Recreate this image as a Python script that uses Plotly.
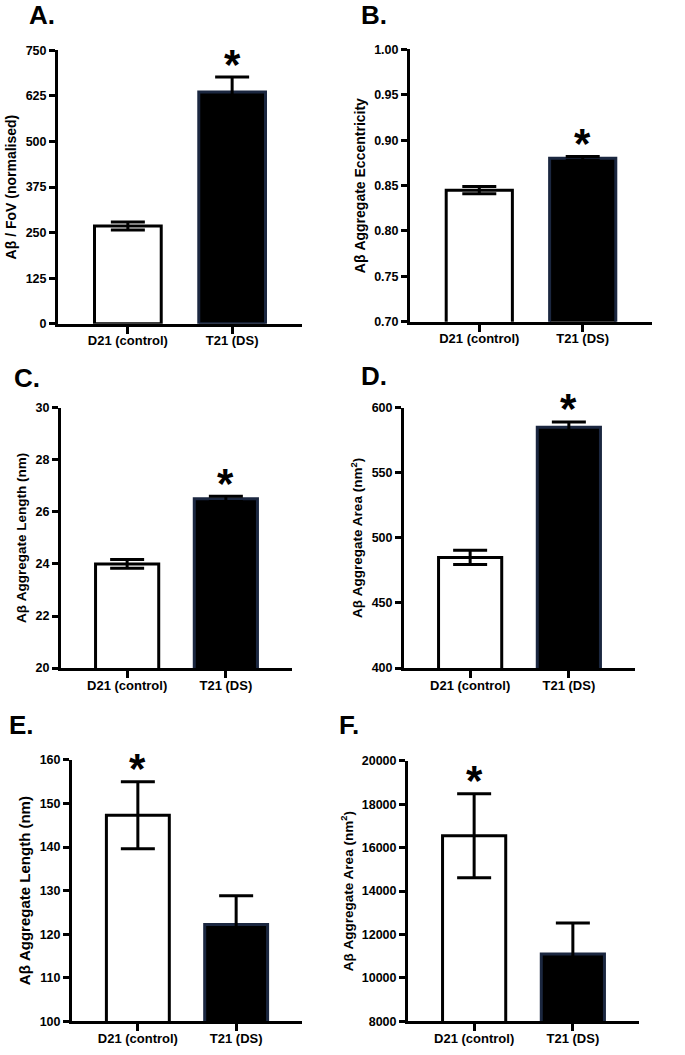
import plotly.graph_objects as go

# ---------------- data ----------------
categories = ["D21 (control)", "T21 (DS)"]

a_means = [268, 636]
a_errs = [11, 41]
b_means = [0.845, 0.880]
b_errs = [0.004, 0.002]
c_means = [24.0, 26.5]
c_errs = [0.17, 0.10]
d_means = [485, 585]
d_errs = [5.5, 4.0]
e_means = [147.3, 122.2]
e_errs = [7.7, 6.6]
f_means = [16550, 11100]
f_errs = [1930, 1430]

star_index = {"A": 1, "B": 1, "C": 1, "D": 1, "E": 0, "F": 0}

y_titles = {
    "A": "Aβ / FoV (normalised)",
    "B": "Aβ Aggregate Eccentricity",
    "C": "Aβ Aggregate Length (nm)",
    "D": "Aβ Aggregate Area (nm<sup>2</sup>)",
    "E": "Aβ Aggregate Length (nm)",
    "F": "Aβ Aggregate Area (nm<sup>2</sup>)",
}
y_ranges = {"A": [0, 750], "B": [0.70, 1.00], "C": [20, 30],
            "D": [400, 600], "E": [100, 160], "F": [8000, 20000]}
y_dticks = {"A": 125, "B": 0.05, "C": 2, "D": 50, "E": 10, "F": 2000}
y_formats = {"A": "d", "B": ".2f", "C": "d", "D": "d", "E": "d", "F": "d"}

series = {"A": (a_means, a_errs), "B": (b_means, b_errs), "C": (c_means, c_errs),
          "D": (d_means, d_errs), "E": (e_means, e_errs), "F": (f_means, f_errs)}

# ---------------- layout (pixels) ----------------
W, H = 685, 1055
# axis-left, axis-right, top, bottom  (pixel positions of plot area)
boxes = {
    "A": (58, 302, 44, 321),
    "B": (410, 652, 43, 319),
    "C": (61, 292, 406, 670),
    "D": (404, 635, 406, 670),
    "E": (72, 302, 763, 1028),
    "F": (408, 639, 764, 1028),
}
label_pos = {"A": (27, 8), "B": (359, 8), "C": (12, 376),
             "D": (359, 374), "E": (7, 728), "F": (337, 728)}
title_size = {"A": 14, "B": 14, "C": 13.5, "D": 13.5, "E": 15, "F": 13.5}

FONT = "Liberation Sans, Arial, sans-serif"

def px_x(x):
    return x / W

def px_y(y):
    return 1 - y / H

fig = go.Figure()
layout = dict(
    width=W, height=H,
    margin=dict(l=0, r=0, t=0, b=0),
    paper_bgcolor="white", plot_bgcolor="white",
    showlegend=False,
    font=dict(family=FONT, color="black"),
)
annotations = []

for i, key in enumerate(["A", "B", "C", "D", "E", "F"]):
    n = "" if i == 0 else str(i + 1)
    xa, ya = "x" + n, "y" + n
    means, errs = series[key]
    x0, x1, yt, yb = boxes[key]

    fig.add_trace(go.Bar(
        x=categories, y=means,
        xaxis=xa, yaxis=ya,
        width=0.64,
        marker=dict(color=["white", "black"],
                    line=dict(color=["black", "#1b2740"], width=3)),
        error_y=dict(type="data", array=errs, symmetric=True,
                     color="black", thickness=3, width=17),
        hoverinfo="skip",
    ))

    layout["xaxis" + n] = dict(
        domain=[px_x(x0), px_x(x1)], anchor=ya,
        range=[-0.67, 1.67], type="category",
        showline=True, linecolor="black", linewidth=3,
        ticks="outside", ticklen=7, tickwidth=3, tickcolor="black",
        ticklabelstandoff=-4,
        showgrid=False, zeroline=False,
        tickfont=dict(family=FONT, size=13, color="black", weight="bold"),
        fixedrange=True,
    )
    layout["yaxis" + n] = dict(
        domain=[px_y(yb), px_y(yt)], anchor=xa,
        range=y_ranges[key], dtick=y_dticks[key], tick0=y_ranges[key][0],
        tickformat=y_formats[key],
        showline=True, linecolor="black", linewidth=3,
        ticks="outside", ticklen=6, tickwidth=3, tickcolor="black",
        showgrid=False, zeroline=False,
        tickfont=dict(family=FONT, size=12.5, color="black", weight="bold"),
        title=dict(text=y_titles[key], standoff=6,
                   font=dict(family=FONT, size=title_size[key], color="black", weight="bold")),
        fixedrange=True,
    )

    si = star_index[key]
    annotations.append(dict(
        x=categories[si], y=means[si] + errs[si], xref=xa, yref=ya,
        text="*", showarrow=False, yanchor="middle", yshift=13,
        font=dict(family=FONT, size=42, color="black", weight="bold"),
    ))

    lx, ly = label_pos[key]
    annotations.append(dict(
        x=px_x(lx), y=px_y(ly), xref="paper", yref="paper",
        xanchor="left", yanchor="middle", text=key + ".", showarrow=False,
        font=dict(family=FONT, size=26, color="black", weight="bold"),
    ))

layout["annotations"] = annotations
fig.update_layout(**layout)
fig.write_html(
    "out.html",
    config={"displayModeBar": False},
    post_script="document.body.style.margin='0';document.body.style.overflow='hidden';",
)
